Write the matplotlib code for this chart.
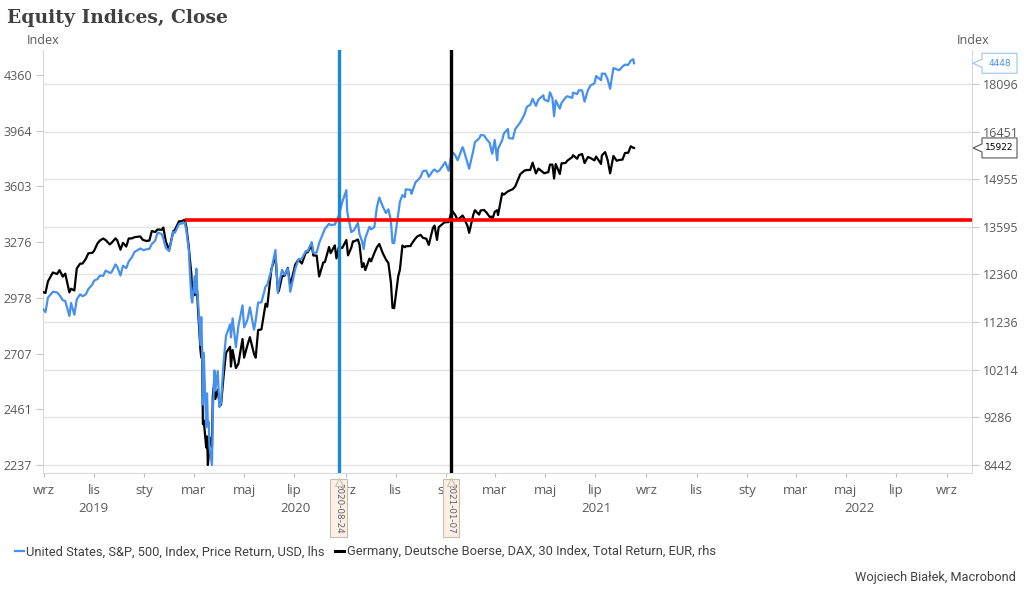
import matplotlib
matplotlib.use("Agg")
import matplotlib.pyplot as plt
import matplotlib.transforms as mtransforms
from matplotlib.ticker import NullLocator
from matplotlib.patches import Polygon
from matplotlib.lines import Line2D
import pandas as pd

# S&P 500 (lhs)
sp_dates = ["2019-08-30", "2019-09-03", "2019-09-06", "2019-09-12", "2019-09-17", "2019-09-20", "2019-09-24", "2019-09-27",
            "2019-10-02", "2019-10-04", "2019-10-08", "2019-10-11", "2019-10-15", "2019-10-18", "2019-10-22", "2019-10-25",
            "2019-10-30", "2019-11-01", "2019-11-05", "2019-11-08", "2019-11-12", "2019-11-15", "2019-11-20", "2019-11-22",
            "2019-11-27", "2019-11-29", "2019-12-03", "2019-12-06", "2019-12-10", "2019-12-13", "2019-12-17", "2019-12-20",
            "2019-12-27", "2019-12-31", "2020-01-03", "2020-01-07", "2020-01-10", "2020-01-14", "2020-01-17", "2020-01-22",
            "2020-01-24", "2020-01-27", "2020-01-31", "2020-02-05", "2020-02-07", "2020-02-12", "2020-02-14", "2020-02-19",
            "2020-02-21", "2020-02-24", "2020-02-25", "2020-02-27", "2020-02-28", "2020-03-02", "2020-03-03", "2020-03-04",
            "2020-03-05", "2020-03-06", "2020-03-09", "2020-03-10", "2020-03-11", "2020-03-12", "2020-03-13", "2020-03-16",
            "2020-03-17", "2020-03-18", "2020-03-19", "2020-03-20", "2020-03-23", "2020-03-24", "2020-03-26", "2020-03-27",
            "2020-03-30", "2020-04-01", "2020-04-03", "2020-04-06", "2020-04-09", "2020-04-14", "2020-04-15", "2020-04-17",
            "2020-04-21", "2020-04-24", "2020-04-29", "2020-05-01", "2020-05-05", "2020-05-08", "2020-05-13", "2020-05-15",
            "2020-05-18", "2020-05-22", "2020-05-27", "2020-05-29", "2020-06-03", "2020-06-08", "2020-06-11", "2020-06-12",
            "2020-06-16", "2020-06-19", "2020-06-23", "2020-06-26", "2020-07-02", "2020-07-06", "2020-07-10", "2020-07-15",
            "2020-07-17", "2020-07-22", "2020-07-24", "2020-07-28", "2020-07-31", "2020-08-05", "2020-08-07", "2020-08-12",
            "2020-08-14", "2020-08-19", "2020-08-21", "2020-08-24", "2020-08-28", "2020-09-02", "2020-09-03", "2020-09-04",
            "2020-09-08", "2020-09-10", "2020-09-11", "2020-09-16", "2020-09-18", "2020-09-21", "2020-09-23", "2020-09-25",
            "2020-09-30", "2020-10-02", "2020-10-06", "2020-10-09", "2020-10-12", "2020-10-16", "2020-10-20", "2020-10-23",
            "2020-10-26", "2020-10-28", "2020-10-30", "2020-11-04", "2020-11-06", "2020-11-09", "2020-11-12", "2020-11-13",
            "2020-11-19", "2020-11-20", "2020-11-25", "2020-11-27", "2020-12-01", "2020-12-04", "2020-12-08", "2020-12-11",
            "2020-12-16", "2020-12-18", "2020-12-21", "2020-12-24", "2020-12-31", "2021-01-04", "2021-01-08", "2021-01-12",
            "2021-01-15", "2021-01-21", "2021-01-22", "2021-01-27", "2021-01-29", "2021-02-03", "2021-02-05", "2021-02-10",
            "2021-02-12", "2021-02-16", "2021-02-19", "2021-02-23", "2021-02-25", "2021-02-26", "2021-03-01", "2021-03-04",
            "2021-03-05", "2021-03-10", "2021-03-12", "2021-03-17", "2021-03-18", "2021-03-19", "2021-03-23", "2021-03-26",
            "2021-04-01", "2021-04-06", "2021-04-09", "2021-04-13", "2021-04-16", "2021-04-20", "2021-04-23", "2021-04-29",
            "2021-04-30", "2021-05-05", "2021-05-07", "2021-05-10", "2021-05-12", "2021-05-14", "2021-05-19", "2021-05-21",
            "2021-05-26", "2021-05-28", "2021-06-03", "2021-06-04", "2021-06-09", "2021-06-11", "2021-06-15", "2021-06-18",
            "2021-06-22", "2021-06-25", "2021-06-30", "2021-07-02", "2021-07-08", "2021-07-09", "2021-07-13", "2021-07-16",
            "2021-07-19", "2021-07-23", "2021-07-27", "2021-07-30", "2021-08-03", "2021-08-06", "2021-08-10", "2021-08-13",
            "2021-08-16", "2021-08-17"]
sp_values = [2926, 2906, 2979, 3009, 3006, 2992, 2966, 2962,
             2887, 2952, 2893, 2970, 2996, 2986, 2996, 3023,
             3047, 3067, 3075, 3093, 3092, 3120, 3108, 3110,
             3153, 3141, 3094, 3146, 3133, 3169, 3193, 3221,
             3240, 3231, 3235, 3238, 3265, 3283, 3330, 3321,
             3295, 3244, 3226, 3334, 3328, 3379, 3380, 3386,
             3338, 3226, 3128, 2979, 2954, 3090, 3003, 3130,
             3024, 2972, 2747, 2882, 2741, 2481, 2711, 2386,
             2529, 2398, 2409, 2305, 2237, 2447, 2630, 2541,
             2627, 2471, 2489, 2664, 2790, 2846, 2783, 2875,
             2737, 2837, 2940, 2831, 2868, 2930, 2820, 2864,
             2954, 2955, 3036, 3044, 3123, 3232, 3002, 3041,
             3125, 3098, 3131, 3009, 3130, 3180, 3185, 3227,
             3225, 3276, 3216, 3218, 3271, 3328, 3351, 3380,
             3373, 3375, 3397, 3431, 3508, 3580, 3455, 3427,
             3332, 3339, 3341, 3385, 3319, 3282, 3237, 3298,
             3363, 3348, 3361, 3477, 3535, 3484, 3443, 3465,
             3401, 3271, 3270, 3443, 3510, 3550, 3537, 3585,
             3582, 3558, 3630, 3638, 3662, 3699, 3702, 3663,
             3701, 3709, 3694, 3703, 3756, 3701, 3825, 3801,
             3768, 3853, 3841, 3751, 3714, 3831, 3887, 3910,
             3934, 3932, 3907, 3881, 3829, 3811, 3901, 3768,
             3842, 3899, 3943, 3975, 3915, 3913, 3910, 3975,
             4020, 4074, 4129, 4142, 4185, 4135, 4180, 4211,
             4181, 4167, 4233, 4189, 4063, 4174, 4116, 4156,
             4195, 4204, 4192, 4230, 4220, 4247, 4246, 4166,
             4246, 4281, 4298, 4352, 4321, 4370, 4369, 4327,
             4258, 4412, 4402, 4395, 4423, 4437, 4436, 4468,
             4479, 4448]

# DAX 30 (rhs)
dax_dates = ["2019-08-30", "2019-09-03", "2019-09-06", "2019-09-12", "2019-09-17", "2019-09-20", "2019-09-24", "2019-09-27",
             "2019-10-02", "2019-10-04", "2019-10-08", "2019-10-11", "2019-10-15", "2019-10-18", "2019-10-22", "2019-10-25",
             "2019-10-30", "2019-11-01", "2019-11-05", "2019-11-08", "2019-11-12", "2019-11-15", "2019-11-20", "2019-11-22",
             "2019-11-27", "2019-11-29", "2019-12-03", "2019-12-06", "2019-12-10", "2019-12-13", "2019-12-17", "2019-12-20",
             "2019-12-27", "2019-12-30", "2020-01-03", "2020-01-07", "2020-01-10", "2020-01-14", "2020-01-17", "2020-01-22",
             "2020-01-24", "2020-01-27", "2020-01-31", "2020-02-05", "2020-02-07", "2020-02-12", "2020-02-14", "2020-02-19",
             "2020-02-21", "2020-02-24", "2020-02-25", "2020-02-27", "2020-02-28", "2020-03-02", "2020-03-03", "2020-03-04",
             "2020-03-05", "2020-03-06", "2020-03-09", "2020-03-10", "2020-03-11", "2020-03-12", "2020-03-13", "2020-03-16",
             "2020-03-17", "2020-03-18", "2020-03-19", "2020-03-20", "2020-03-23", "2020-03-24", "2020-03-26", "2020-03-27",
             "2020-03-30", "2020-04-01", "2020-04-03", "2020-04-06", "2020-04-09", "2020-04-14", "2020-04-15", "2020-04-17",
             "2020-04-21", "2020-04-24", "2020-04-29", "2020-05-01", "2020-05-05", "2020-05-08", "2020-05-13", "2020-05-15",
             "2020-05-18", "2020-05-22", "2020-05-27", "2020-05-29", "2020-06-03", "2020-06-08", "2020-06-11", "2020-06-12",
             "2020-06-16", "2020-06-19", "2020-06-23", "2020-06-26", "2020-07-02", "2020-07-06", "2020-07-10", "2020-07-15",
             "2020-07-17", "2020-07-22", "2020-07-24", "2020-07-28", "2020-07-31", "2020-08-05", "2020-08-07", "2020-08-12",
             "2020-08-14", "2020-08-19", "2020-08-21", "2020-08-24", "2020-08-28", "2020-09-02", "2020-09-03", "2020-09-04",
             "2020-09-08", "2020-09-10", "2020-09-11", "2020-09-16", "2020-09-18", "2020-09-21", "2020-09-23", "2020-09-25",
             "2020-09-30", "2020-10-02", "2020-10-06", "2020-10-09", "2020-10-12", "2020-10-16", "2020-10-20", "2020-10-23",
             "2020-10-26", "2020-10-28", "2020-10-30", "2020-11-04", "2020-11-06", "2020-11-09", "2020-11-12", "2020-11-13",
             "2020-11-19", "2020-11-20", "2020-11-25", "2020-11-27", "2020-12-01", "2020-12-04", "2020-12-08", "2020-12-11",
             "2020-12-16", "2020-12-18", "2020-12-21", "2020-12-23", "2020-12-30", "2021-01-04", "2021-01-07", "2021-01-08",
             "2021-01-12", "2021-01-15", "2021-01-21", "2021-01-22", "2021-01-27", "2021-01-29", "2021-02-03", "2021-02-05",
             "2021-02-10", "2021-02-12", "2021-02-16", "2021-02-19", "2021-02-23", "2021-02-25", "2021-02-26", "2021-03-01",
             "2021-03-04", "2021-03-05", "2021-03-10", "2021-03-12", "2021-03-17", "2021-03-19", "2021-03-23", "2021-03-26",
             "2021-04-01", "2021-04-06", "2021-04-09", "2021-04-13", "2021-04-16", "2021-04-20", "2021-04-23", "2021-04-29",
             "2021-04-30", "2021-05-05", "2021-05-07", "2021-05-10", "2021-05-12", "2021-05-14", "2021-05-19", "2021-05-21",
             "2021-05-26", "2021-05-28", "2021-06-03", "2021-06-04", "2021-06-09", "2021-06-11", "2021-06-15", "2021-06-18",
             "2021-06-22", "2021-06-25", "2021-06-30", "2021-07-02", "2021-07-08", "2021-07-09", "2021-07-13", "2021-07-16",
             "2021-07-19", "2021-07-23", "2021-07-27", "2021-07-30", "2021-08-03", "2021-08-06", "2021-08-10", "2021-08-13",
             "2021-08-16", "2021-08-17"]
dax_values = [11939, 11911, 12192, 12410, 12372, 12468, 12308, 12381,
              11925, 12013, 11970, 12512, 12630, 12634, 12755, 12895,
              12910, 12961, 13148, 13229, 13283, 13242, 13127, 13164,
              13287, 13236, 12989, 13167, 13071, 13283, 13287, 13319,
              13337, 13249, 13219, 13227, 13483, 13457, 13526, 13515,
              13577, 13205, 12982, 13479, 13514, 13750, 13744, 13789,
              13579, 13035, 12790, 12367, 11890, 11858, 11985, 12128,
              11944, 11542, 10625, 10475, 10439, 9161, 9232, 8742,
              8939, 8442, 8610, 8929, 8741, 9701, 10001, 9633,
              9816, 9544, 9526, 10075, 10565, 10697, 10280, 10626,
              10250, 10337, 10862, 10467, 10730, 10904, 10542, 10465,
              11058, 11074, 11657, 11587, 12487, 12820, 11970, 11949,
              12316, 12331, 12524, 12089, 12608, 12734, 12633, 12931,
              12920, 13104, 12838, 12836, 12313, 12660, 12674, 13058,
              12901, 13103, 12765, 13067, 13033, 13243, 13057, 12842,
              13041, 13209, 13203, 13256, 13116, 12542, 12643, 12469,
              12761, 12689, 12906, 13051, 13138, 12909, 12737, 12646,
              12178, 11561, 11556, 12324, 12480, 13096, 13053, 13077,
              13086, 13137, 13290, 13335, 13382, 13299, 13278, 13114,
              13566, 13631, 13246, 13587, 13719, 13727, 13968, 14049,
              13925, 13787, 13907, 13874, 13620, 13433, 13933, 14057,
              13933, 14050, 14064, 13993, 13865, 13879, 13786, 14012,
              14056, 13921, 14541, 14502, 14597, 14621, 14662, 14749,
              15107, 15216, 15234, 15234, 15460, 15129, 15280, 15155,
              15136, 15170, 15400, 15400, 14977, 15417, 15114, 15438,
              15451, 15520, 15633, 15693, 15582, 15693, 15729, 15448,
              15636, 15607, 15531, 15650, 15421, 15688, 15790, 15540,
              15133, 15670, 15519, 15544, 15555, 15761, 15771, 15977,
              15926, 15922]

sp_ticks = [2237, 2461, 2707, 2978, 3276, 3603, 3964, 4360]
dax_ticks = [8442, 9286, 10214, 11236, 12360, 13595, 14955, 16451, 18096]
month_ticks = pd.date_range("2019-09-01", "2022-09-01", freq="2MS")
month_names = ["wrz", "lis", "sty", "mar", "maj", "lip"]
years = [2019, 2020, 2021, 2022]
marker_dates = ["2020-08-24", "2021-01-07"]
peak_date = "2020-02-19"
peak_level = 13789  # DAX level, rhs
sp_last = 4448
dax_last = 15922

sp_label = "United States, S&P, 500, Index, Price Return, USD, lhs"
dax_label = "Germany, Deutsche Boerse, DAX, 30 Index, Total Return, EUR, rhs"

grey = "#595959"
blue = "#4690f0"
tickfont = "Open Sans"
narrow = ["Roboto", "DejaVu Sans"]

x0 = pd.Timestamp("2019-08-31")
x1 = pd.Timestamp("2022-10-01")

fig = plt.figure(figsize=(10.24, 5.94), dpi=100)
W, H = 1024, 594
ax = fig.add_axes([43 / W, 1 - 473 / H, (972 - 43) / W, (473 - 50) / H])
axl = ax.twinx()

# rhs (DAX) on base axes
ax.plot(pd.to_datetime(dax_dates), dax_values, color="black", lw=1.6, zorder=3)
ax.set_yscale("log")
ax.set_ylim(8308, 19370)
ax.yaxis.tick_right()
ax.set_yticks(dax_ticks)
ax.set_yticklabels([str(v) for v in dax_ticks])
ax.yaxis.set_minor_locator(NullLocator())
ax.yaxis.grid(True, color="#e4e4e4", lw=1)
ax.set_axisbelow(True)

# lhs (S&P) on twin axes
axl.plot(pd.to_datetime(sp_dates), sp_values, color=blue, lw=1.6, zorder=3)
axl.set_yscale("log")
axl.set_ylim(2207, 4550)
axl.yaxis.tick_left()
axl.set_yticks(sp_ticks)
axl.set_yticklabels([str(v) for v in sp_ticks])
axl.yaxis.set_minor_locator(NullLocator())

for a in (ax, axl):
    a.set_xlim(x0, x1)
    for s in a.spines.values():
        s.set_visible(False)
    a.tick_params(axis="y", length=5, color="#c8c8c8", labelcolor=grey, labelsize=9, pad=3)
    for lab in a.get_yticklabels():
        lab.set_fontfamily(tickfont)

for side in ("left", "right", "bottom"):
    ax.spines[side].set_visible(True)
    ax.spines[side].set_color("#d9d9d9")

ax.set_xticks(month_ticks)
ax.set_xticklabels([month_names[i % 6] for i in range(len(month_ticks))])
ax.xaxis.set_minor_locator(NullLocator())
ax.tick_params(axis="x", length=3, color="#bbbbbb", labelcolor=grey, labelsize=9.5, pad=5)
for lab in ax.get_xticklabels():
    lab.set_fontfamily(tickfont)

bt = mtransforms.blended_transform_factory(ax.transData, ax.transAxes)
for yr in years:
    a = max(pd.Timestamp(f"{yr}-01-01"), x0)
    b = min(pd.Timestamp(f"{yr + 1}-01-01"), x1)
    ax.text(a + (b - a) / 2, -35 / 423, str(yr), transform=bt, ha="center", va="center",
            fontsize=9.5, color=grey, family=tickfont)

# marker lines
axl.axvline(pd.Timestamp(marker_dates[0]), color="#1a88d8", lw=2.4, zorder=5)
axl.axvline(pd.Timestamp(marker_dates[1]), color="black", lw=2.4, zorder=5)
axl.plot([pd.Timestamp(peak_date), x1], [peak_level, peak_level], color="red", lw=2.6,
         transform=ax.transData, zorder=6, solid_capstyle="butt")

for d in marker_dates:
    ax.plot([pd.Timestamp(d)], [-9 / 423], marker="^", ms=6, mfc="#f9f0e7", mec="#cbbcae",
            mew=0.8, transform=bt, clip_on=False, zorder=7)
    ax.text(pd.Timestamp(d), -(508 - 473) / 423, d, transform=bt, rotation=270, ha="center", va="center",
            fontsize=6.3, color="#606060",
            bbox=dict(boxstyle="square,pad=0.45", fc="#f9f0e7", ec="#cbbcae", lw=0.8), zorder=6)

# last-value callouts on the right
fig.canvas.draw()


def callout(yp, text, edge, tc):
    pts = [(973, yp), (982, yp + 4), (982, yp + 10), (1017, yp + 10), (1017, yp - 10), (982, yp - 10), (982, yp - 4)]
    fig.add_artist(Polygon(pts, closed=True, fc="white", ec=edge, lw=0.8, transform=mtransforms.IdentityTransform()))
    fig.text(999.5 / W, yp / H, text, ha="center", va="center", fontsize=6.5, color=tc)


last_x = matplotlib.dates.date2num(pd.Timestamp(sp_dates[-1]))
y_sp = axl.transData.transform((last_x, sp_last))[1]
y_dax = ax.transData.transform((last_x, dax_last))[1]
callout(y_sp, str(sp_last), "#9cc3f5", blue)
callout(y_dax, str(dax_last), "#555555", "black")

# titles and labels
fig.text(7 / W, 1 - 18 / H, "Equity Indices, Close", fontsize=13.5, fontweight="bold",
         family="DejaVu Serif", color="#404040", va="center")
fig.text(43 / W, 1 - 40 / H, "Index", fontsize=9, color=grey, ha="center", va="center", family=tickfont)
fig.text(973 / W, 1 - 40 / H, "Index", fontsize=9, color=grey, ha="center", va="center", family=tickfont)

handles = [Line2D([], [], color=blue, lw=1.6), Line2D([], [], color="black", lw=2.2)]
fig.legend(handles, [sp_label, dax_label], loc="center left", bbox_to_anchor=(3 / W, 1 - 552 / H),
           ncol=2, frameon=False, handlelength=0.7, handletextpad=0.2, columnspacing=0.8,
           prop={"family": narrow, "size": 9.3}, labelcolor="#404040")
fig.text(1016 / W, 1 - 577 / H, "Wojciech Białek, Macrobond", ha="right", va="center",
         fontsize=9.2, color="#404040", family=narrow)

fig.savefig("out.png", dpi=100)
